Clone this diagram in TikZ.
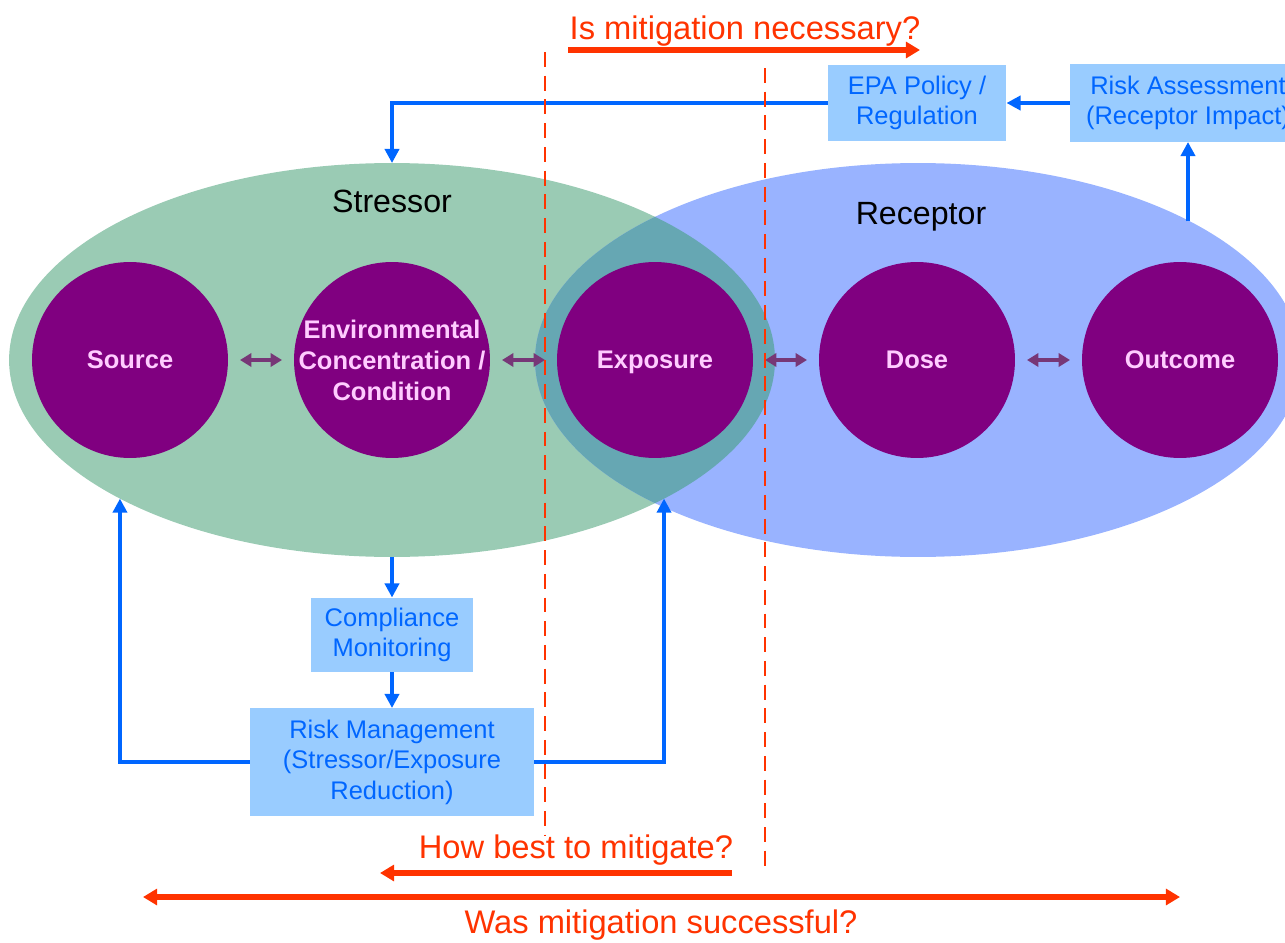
\documentclass[tikz,border=0pt]{standalone}
\usepackage{fontspec}
\setmainfont{Liberation Sans}
\usetikzlibrary{arrows.meta, shapes.geometric}
\definecolor{stressorfill}{RGB}{154, 203, 180}
\definecolor{receptorfill}{RGB}{153, 179, 255}
\definecolor{overlapfill}{RGB}{102, 167, 179}
\definecolor{stagefill}{RGB}{128, 0, 128}
\definecolor{stagelabel}{RGB}{255, 204, 255}
\definecolor{linkpurple}{RGB}{119, 55, 119}
\definecolor{boxfill}{RGB}{153, 204, 255}
\definecolor{flowblue}{RGB}{0, 102, 255}
\definecolor{alertred}{RGB}{255, 51, 0}
\tikzset{
    zone/.style={ellipse, minimum width=15.32cm, minimum height=7.88cm,
        inner sep=0pt, outer sep=0pt},
    zonename/.style={anchor=base, font=\fontsize{18.3}{22}\selectfont},
    stage/.style={circle, fill=stagefill, minimum size=3.92cm, inner sep=0pt,
        outer sep=0pt},
    stagetext/.style={text=stagelabel, align=center,
        font=\bfseries\fontsize{14.5}{17.6}\selectfont},
    infobox/.style={fill=boxfill, text=flowblue, align=center, inner sep=0pt,
        outer sep=0pt, font=\fontsize{14.5}{17.4}\selectfont},
    flow/.style={draw=flowblue, line width=2.3pt,
        -{Triangle[width=8pt, length=8pt]}},
    link/.style={draw=linkpurple, line width=2.6pt, shorten <=.24cm,
        shorten >=.24cm, >={Triangle[width=7.5pt, length=6.5pt]}, <->},
    question/.style={text=alertred, anchor=base,
        font=\fontsize{18.6}{22}\selectfont},
    ask/.style={draw=alertred, line width=3.4pt,
        >={Triangle[width=9pt, length=8pt]}},
    divider/.style={draw=alertred, line width=1.1pt,
        dash pattern=on 8.5pt off 5pt},
}

\begin{document}
\begin{tikzpicture}[x=.02cm, y=-.02cm]
    \useasboundingbox (0, 0) rectangle (1285, 943);
    \clip (0, 0) rectangle (1285, 943);
    \node[zone, fill=stressorfill] (stressor) at (392, 360) {};
    \node[zone, fill=receptorfill] (receptor) at (918, 360) {};
    \begin{scope} % lens shared by both zones
        \clip (stressor.center) ellipse [x radius=383, y radius=197];
        \fill[overlapfill] (receptor.center) ellipse [x radius=383,
            y radius=197];
    \end{scope}
    \node[zonename] (stressorname) at (392, 212) {Stressor};
    \node[zonename] (receptorname) at (921, 224) {Receptor};

    \node[stage, label={[stagetext]center:Source}] (source) at (130, 360) {};
    \node[stage, label={[stagetext]center:{Environmental\\Concentration /\\
        Condition}}] (envcond) at (392, 360) {};
    \node[stage, label={[stagetext, text depth=0pt]center:Exposure}]
        (exposure) at (655, 360) {};
    \node[stage, label={[stagetext]center:Dose}] (dose) at (917, 360) {};
    \node[stage, label={[stagetext]center:Outcome}] (outcome)
        at (1180, 360) {};
    \draw[link] (source) -- (envcond);
    \draw[link] (envcond) -- (exposure);
    \draw[link] (exposure) -- (dose);
    \draw[link] (dose) -- (outcome);

    \node[infobox, minimum width=3.58cm, minimum height=1.52cm] (policy)
        at (917, 103) {EPA Policy /\\Regulation};
    \node[infobox, minimum width=4.72cm, minimum height=1.56cm] (assess)
        at (1188, 103) {Risk Assessment\\(Receptor Impact)};
    \node[infobox, minimum width=3.26cm, minimum height=1.5cm] (monitor)
        at (392, 635) {Compliance\\Monitoring};
    \node[infobox, minimum width=5.7cm, minimum height=2.16cm] (manage)
        at (392, 762) {Risk Management\\(Stressor/Exposure\\Reduction)};

    \draw[flow] (assess.west) -- (policy.east);
    \draw[flow] (policy.west) -| (stressor.north);
    \draw[flow] (receptor.27.4 -| assess.south) -- (assess.south);
    \draw[flow] (stressor.south) -- (monitor.north);
    \draw[flow] (monitor.south) -- (manage.north);
    \draw[flow] (manage.west) -| (stressor.207.2);
    \draw[flow] (manage.east) -| (stressor.-27.2);

    \coordinate (leftcuttop) at (545, 52);
    \coordinate (leftcutbottom) at (545, 835);
    \coordinate (rightcuttop) at (765, 68);
    \coordinate (rightcutbottom) at (765, 873);
    \draw[divider] (leftcuttop) -- (leftcutbottom);
    \draw[divider] (rightcuttop) -- (rightcutbottom);

    \node[question] (necessary) at (745, 39) {Is mitigation necessary?};
    \coordinate (necessarystart) at (568, 50);
    \coordinate (necessaryend) at (920, 50);
    \draw[ask, ->] (necessarystart) -- (necessaryend);
    \node[question] (howbest) at (576, 858) {How best to mitigate?};
    \coordinate (howbeststart) at (732, 873);
    \coordinate (howbestend) at (380, 873);
    \draw[ask, ->] (howbeststart) -- (howbestend);
    \coordinate (successleft) at (143, 897);
    \coordinate (successright) at (1180, 897);
    \draw[ask, <->] (successleft) -- (successright);
    \node[question] (successful) at (661, 933) {Was mitigation successful?};
\end{tikzpicture}
\end{document}
